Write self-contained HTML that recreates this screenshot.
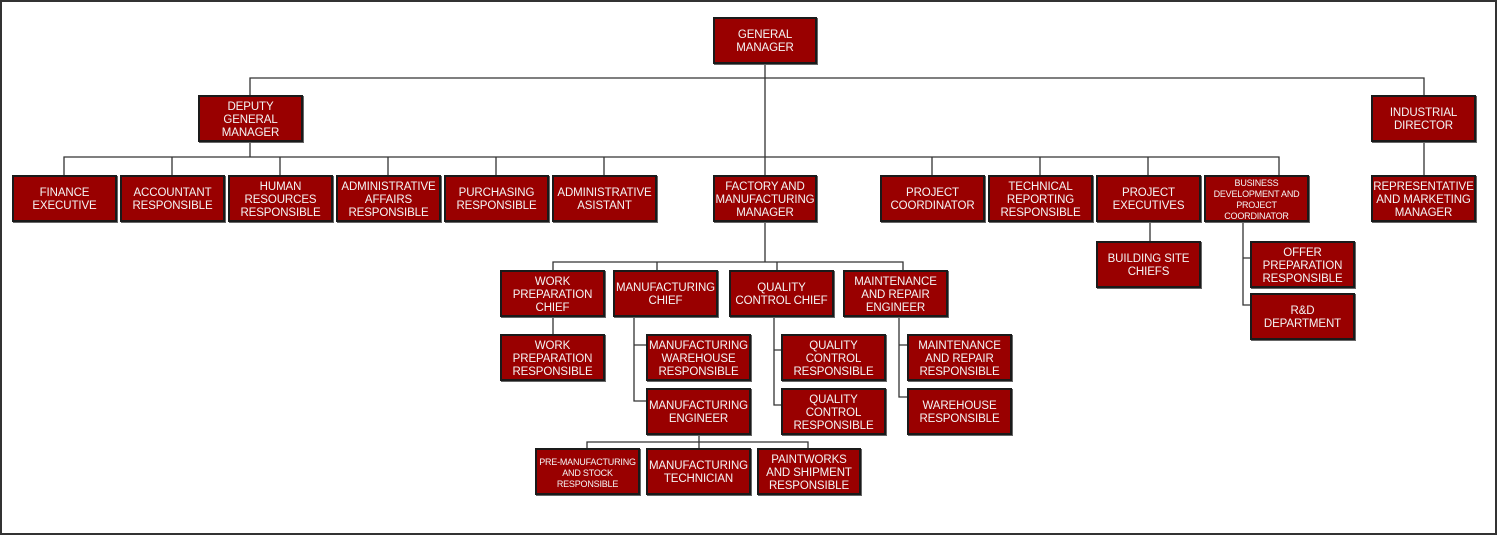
<!DOCTYPE html>
<html><head><meta charset="utf-8"><style>
html,body{margin:0;padding:0;background:#fff;}
#c{position:relative;width:1500px;height:536px;overflow:hidden;font-family:"Liberation Sans",Arial,sans-serif;}
.b{position:absolute;box-sizing:border-box;background:#990000;border:2px solid #1a1a1a;color:#f4f4f4;font-size:11.5px;line-height:13px;display:flex;align-items:center;justify-content:center;text-align:center;width:105px;height:47px;box-shadow:1px 1px 0 #666;white-space:nowrap;padding-top:3px;letter-spacing:-0.1px;}
.s{font-size:9px;line-height:11px;letter-spacing:-0.2px;}
svg{position:absolute;left:0;top:0;}
</style></head><body><div id="c">
<svg width="1500" height="536">
<rect x="1" y="1" width="1495" height="533" fill="none" stroke="#333" stroke-width="2"/>
<g stroke="#333" stroke-width="1.3" fill="none">
<path d="M765 64V175M250 95V78H1424V95M250 142V157M64 175V157H1279V175M172 157V175M280 157V175M388 157V175M496 157V175M604 157V175M932 157V175M1040 157V175M1148 157V175M1424 142V175"/>
<path d="M765 222V262M553 270V262H903V270M657 262V270M777 262V270M553 317V334"/>
<path d="M634 317V401H646M634 345H646M774 317V405H781M774 350H781M899 317V397H907M899 345H907"/>
<path d="M699 435V442M587 448V442H808V448M699 442V448"/>
<path d="M1150 222V241M1243 222V305H1250M1243 258H1250"/>
</g></svg>
<div class="b" style="left:713px;top:17px;width:104px">GENERAL<br>MANAGER</div>
<div class="b" style="left:198px;top:95px">DEPUTY<br>GENERAL<br>MANAGER</div>
<div class="b" style="left:1371px;top:95px">INDUSTRIAL<br>DIRECTOR</div>
<div class="b" style="left:12px;top:175px">FINANCE<br>EXECUTIVE</div>
<div class="b" style="left:120px;top:175px">ACCOUNTANT<br>RESPONSIBLE</div>
<div class="b" style="left:228px;top:175px">HUMAN<br>RESOURCES<br>RESPONSIBLE</div>
<div class="b" style="left:336px;top:175px">ADMINISTRATIVE<br>AFFAIRS<br>RESPONSIBLE</div>
<div class="b" style="left:444px;top:175px">PURCHASING<br>RESPONSIBLE</div>
<div class="b" style="left:552px;top:175px">ADMINISTRATIVE<br>ASISTANT</div>
<div class="b" style="left:713px;top:175px;width:104px">FACTORY AND<br>MANUFACTURING<br>MANAGER</div>
<div class="b" style="left:880px;top:175px">PROJECT<br>COORDINATOR</div>
<div class="b" style="left:988px;top:175px">TECHNICAL<br>REPORTING<br>RESPONSIBLE</div>
<div class="b" style="left:1096px;top:175px">PROJECT<br>EXECUTIVES</div>
<div class="b s" style="left:1204px;top:175px">BUSINESS<br>DEVELOPMENT AND<br>PROJECT<br>COORDINATOR</div>
<div class="b" style="left:1371px;top:175px">REPRESENTATIVE<br>AND MARKETING<br>MANAGER</div>
<div class="b" style="left:1096px;top:241px">BUILDING SITE<br>CHIEFS</div>
<div class="b" style="left:1250px;top:241px">OFFER<br>PREPARATION<br>RESPONSIBLE</div>
<div class="b" style="left:1250px;top:293px">R&amp;D<br>DEPARTMENT</div>
<div class="b" style="left:500px;top:270px">WORK<br>PREPARATION<br>CHIEF</div>
<div class="b" style="left:613px;top:270px">MANUFACTURING<br>CHIEF</div>
<div class="b" style="left:729px;top:270px">QUALITY<br>CONTROL CHIEF</div>
<div class="b" style="left:843px;top:270px">MAINTENANCE<br>AND REPAIR<br>ENGINEER</div>
<div class="b" style="left:500px;top:334px">WORK<br>PREPARATION<br>RESPONSIBLE</div>
<div class="b" style="left:646px;top:334px">MANUFACTURING<br>WAREHOUSE<br>RESPONSIBLE</div>
<div class="b" style="left:646px;top:388px">MANUFACTURING<br>ENGINEER</div>
<div class="b" style="left:781px;top:334px">QUALITY<br>CONTROL<br>RESPONSIBLE</div>
<div class="b" style="left:781px;top:388px">QUALITY<br>CONTROL<br>RESPONSIBLE</div>
<div class="b" style="left:907px;top:334px">MAINTENANCE<br>AND REPAIR<br>RESPONSIBLE</div>
<div class="b" style="left:907px;top:388px">WAREHOUSE<br>RESPONSIBLE</div>
<div class="b s" style="left:535px;top:448px">PRE-MANUFACTURING<br>AND STOCK<br>RESPONSIBLE</div>
<div class="b" style="left:646px;top:448px">MANUFACTURING<br>TECHNICIAN</div>
<div class="b" style="left:757px;top:448px;width:104px">PAINTWORKS<br>AND SHIPMENT<br>RESPONSIBLE</div>
</div></body></html>
